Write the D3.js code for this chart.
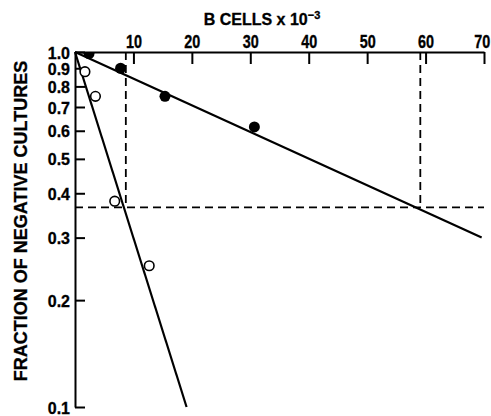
<!DOCTYPE html>
<html>
<head>
<meta charset="utf-8">
<script src="https://cdn.jsdelivr.net/npm/d3@7"></script>
<style>
  body { margin: 0; background: #fff; }
  text { font-family: "Liberation Sans", Arial, sans-serif; font-weight: bold; fill: #000; stroke: #000; stroke-width: 0.3px; }
</style>
</head>
<body>
<svg id="chart" width="491" height="416"></svg>
<script>
// values
var xTicks = [10, 20, 30, 40, 50, 60, 70];
var yTicks = [0.1, 0.2, 0.3, 0.4, 0.5, 0.6, 0.7, 0.8, 0.9, 1.0];

var openX = [1.7, 3.5, 6.8, 12.7];
var openY = [0.88, 0.75, 0.38, 0.25];

var filledX = [2.4, 7.8, 15.4, 30.7];
var filledY = [0.99, 0.90, 0.75, 0.615];

var steepX = [0, 19.1];
var steepY = [1.0, 0.1];
var shallowX = [0, 69.6];
var shallowY = [1.0, 0.30];

var refY = 0.365;
var crossX = [8.7, 59.1];

var svg = d3.select("#chart");

var x = d3.scaleLinear().domain([0, 70]).range([75, 484]);
var y = d3.scaleLog().domain([0.1, 1]).range([407, 52]);

svg.append("clipPath").attr("id", "plot")
  .append("rect").attr("x", 75).attr("y", 52).attr("width", 420).attr("height", 360);

// top axis, ticks pointing down into the plot
var xAxis = svg.append("g")
  .attr("transform", "translate(0," + y(1) + ")")
  .call(d3.axisTop(x).tickValues(xTicks).tickSize(-12).tickSizeOuter(0).tickPadding(4).tickFormat(d3.format("d")));

var yAxis = svg.append("g")
  .attr("transform", "translate(" + x(0) + ",0)")
  .call(d3.axisLeft(y).tickValues(yTicks).tickSize(-10).tickSizeOuter(0).tickPadding(5).tickFormat(d3.format(".1f")));

[xAxis, yAxis].forEach(function(a) {
  a.selectAll("path, line").attr("stroke", "#000").attr("stroke-width", 2);
  a.selectAll("text").style("font-size", "16px").attr("fill", "#000");
});
xAxis.selectAll("text").attr("transform", "scale(0.9,1.1)");
// last label sits a touch left of its tick, as in the original
xAxis.selectAll("text").filter(function(d) { return d === 70; }).attr("x", -2.5);
yAxis.selectAll("text").attr("dy", "0.36em").attr("transform", "scale(1,1.05)");

// dashed guide lines
var dash = svg.append("g").attr("stroke", "#000").attr("stroke-width", 1.8)
  .attr("stroke-dasharray", "8,5").attr("fill", "none");
dash.append("line")
  .attr("x1", x(0)).attr("x2", x(70)).attr("y1", y(refY)).attr("y2", y(refY));
crossX.forEach(function(cx) {
  dash.append("line")
    .attr("x1", x(cx)).attr("x2", x(cx)).attr("y1", y(1)).attr("y2", y(refY));
});

// fitted lines
var line = d3.line().x(function(d) { return x(d[0]); }).y(function(d) { return y(d[1]); });
svg.append("path").datum(d3.zip(steepX, steepY))
  .attr("d", line).attr("stroke", "#000").attr("stroke-width", 2.2).attr("fill", "none");
svg.append("path").datum(d3.zip(shallowX, shallowY))
  .attr("d", line).attr("stroke", "#000").attr("stroke-width", 2.2).attr("fill", "none");

// points
var pts = svg.append("g").attr("clip-path", "url(#plot)");
pts.selectAll("circle.open").data(d3.zip(openX, openY)).enter()
  .append("circle").attr("class", "open")
  .attr("cx", function(d) { return x(d[0]); })
  .attr("cy", function(d) { return y(d[1]); })
  .attr("r", 4.8).attr("fill", "#fff").attr("stroke", "#000").attr("stroke-width", 1.6);
pts.selectAll("circle.filled").data(d3.zip(filledX, filledY)).enter()
  .append("circle").attr("class", "filled")
  .attr("cx", function(d) { return x(d[0]); })
  .attr("cy", function(d) { return y(d[1]); })
  .attr("r", 5.5).attr("fill", "#000");

// titles
var xt = svg.append("text").attr("x", 262).attr("y", 25).attr("text-anchor", "middle")
  .style("font-size", "16px");
xt.append("tspan").text("B CELLS x 10");
xt.append("tspan").text("\u22123").attr("dy", -6).style("font-size", "11px");

svg.append("text")
  .attr("transform", "translate(27,221) rotate(-90)")
  .attr("text-anchor", "middle")
  .style("font-size", "18px")
  .text("FRACTION OF NEGATIVE CULTURES");
</script>
</body>
</html>
